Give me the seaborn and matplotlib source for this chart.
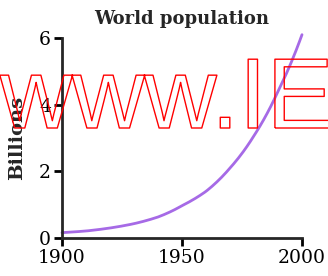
import numpy as np
import pandas as pd
import matplotlib
matplotlib.use("Agg")
import matplotlib.pyplot as plt
import matplotlib.patheffects as pe
import seaborn as sns

# values (billions)
years = [1900, 1910, 1920, 1930, 1940, 1950, 1960, 1970, 1980, 1990, 2000]
population = [0.16, 0.21, 0.30, 0.43, 0.63, 0.97, 1.40, 2.10, 3.07, 4.40, 6.10]
x_ticks = [1900, 1950, 2000]
y_ticks = [0, 2, 4, 6]

df = pd.DataFrame({"year": years, "population": population})

sns.set_style("ticks")
plt.rcParams["font.family"] = ["DejaVu Serif"]

fig = plt.figure(figsize=(3.28, 2.76), dpi=100)
ax = fig.add_axes([62 / 328, 38 / 276, 240 / 328, 200 / 276])

# smooth the read points a little so the curve looks continuous
fine = pd.DataFrame({"year": np.linspace(1900, 2000, 201)})
fine["population"] = np.exp(np.interp(fine["year"], df["year"], np.log(df["population"])))
sns.lineplot(data=fine, x="year", y="population", ax=ax, color="#a66ae6",
             linewidth=2, clip_on=False)

ax.set_xlim(1900, 2000)
ax.set_ylim(0, 6)
ax.set_xticks(x_ticks)
ax.set_yticks(y_ticks)
ax.tick_params(axis="both", labelsize=13.5, width=2, length=6, direction="out",
               colors="black", pad=2)
for side in ["left", "bottom"]:
    ax.spines[side].set_linewidth(2)
sns.despine(ax=ax)
ax.set_xlabel("")
ax.set_ylabel("Billions", fontsize=14, fontweight="bold", labelpad=9)
ax.set_title("World population", fontsize=13, fontweight="bold", pad=10)

# red outlined overlay text
fig.text(0.0, (276 - 128) / 276, "www.IE", fontsize=72, family="Liberation Sans",
         color=(1, 0, 0, 0), ha="left", va="baseline",
         path_effects=[pe.Stroke(linewidth=1, foreground="red")])

fig.savefig("out.png", dpi=100)
